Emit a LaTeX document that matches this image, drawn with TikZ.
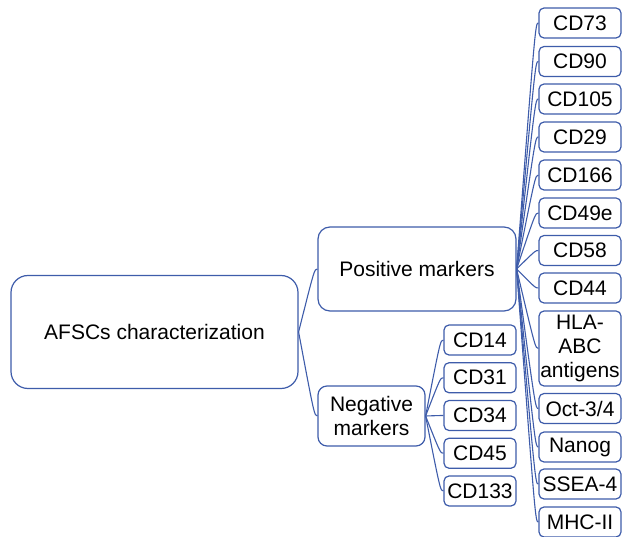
\documentclass[tikz,border=0pt]{standalone}
\usepackage{fontspec}
\setmainfont{Liberation Sans}
\usetikzlibrary{calc}
\definecolor{lineblue}{RGB}{62,92,170}
\begin{document}
\begin{tikzpicture}[x=1pt,y=-1pt,
  box/.style={draw=lineblue,line width=1.2pt,fill=white,inner sep=0pt,align=center,
    font=\fontsize{21}{24}\selectfont},
  big/.style={box,rounded corners=17pt},
  mid/.style={box,rounded corners=12pt},
  sml/.style={box,rounded corners=9pt},
  leaf/.style={box,rounded corners=5pt,minimum height=30pt},
  conn/.style={draw=lineblue,line width=1.1pt}]
\useasboundingbox (0,0) rectangle (622,537);
\node[big,minimum width=287pt,minimum height=113pt] (root) at (154.5,332) {AFSCs characterization};
\node[mid,minimum width=198pt,minimum height=84pt] (pos) at (417,269) {Positive markers};
\node[sml,minimum width=107pt,minimum height=60pt] (neg) at (371.5,416) {Negative\\markers};
% negative children
\foreach \n/\t/\y in {n1/CD14/340,n2/CD31/377.75,n3/CD34/415.5,n4/CD45/453.25,n5/CD133/491}{
  \node[leaf,minimum width=72pt] (\n) at (480,\y) {\t};
}
% positive children
\foreach \n/\t/\y in {p1/CD73/23,p2/CD90/61.5,p3/CD105/99,p4/CD29/137,p5/CD166/175,p6/CD49e/213,p7/CD58/250.5,p8/CD44/288,p10/Oct-3\slash 4/408.5,p11/Nanog/447,p12/SSEA-4/484,p13/MHC-II/522}{
  \node[leaf,minimum width=82pt] (\n) at (580,\y) {\t};
}
\node[leaf,minimum width=82pt,minimum height=75pt] (p9) at (580,348.5) {HLA-\\ABC\\antigens};
% connectors
\foreach \c in {pos,neg}{
  \draw[conn] (root.east) .. controls ($(\c.west)+(-3,0)$) .. (\c.west);
}
\foreach \c in {n1,n2,n3,n4,n5}{
  \draw[conn] (neg.east) .. controls ($(\c.west)+(-3,0)$) .. (\c.west);
}
\foreach \c in {p1,p2,p3,p4,p5,p6,p7,p8,p9,p10,p11,p12,p13}{
  \draw[conn] (pos.east) .. controls ($(\c.west)+(-3,0)$) .. (\c.west);
}
\end{tikzpicture}
\end{document}
